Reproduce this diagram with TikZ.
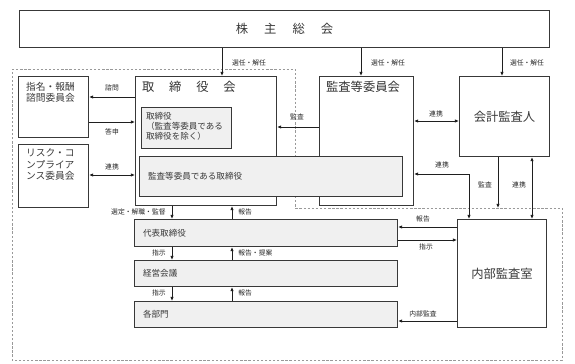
\documentclass[tikz,border=0pt]{standalone}
\usepackage{fontspec}
\setmainfont{Noto Sans CJK JP}
\usetikzlibrary{arrows.meta,positioning}

\begin{document}
\begin{tikzpicture}[
    x=0.03cm, y=-0.03cm,
    every node/.style={font=\fontsize{7.3}{9}\selectfont, text=black!78},
    box/.style={draw=black!78, line width=0.9pt, anchor=north west, inner sep=0pt},
    graybox/.style={box, fill=black!6},
    titlenode/.style={font=\fontsize{10.5}{12}\selectfont, text=black!80},
    lbl/.style={font=\fontsize{5.8}{7}\selectfont, text=black!85, inner sep=1pt},
    arr/.style={-{Latex[length=3.5pt,width=3pt]}, line width=0.8pt, black!88},
    darr/.style={{Latex[length=3.5pt,width=3pt]}-{Latex[length=3.5pt,width=3pt]}, line width=0.8pt, black!88}
]
\useasboundingbox (0,0) rectangle (575,364);

% company outline
\coordinate (dsh) at (295,208);
\draw[black!40, line width=0.6pt, dash pattern=on 2pt off 1.5pt]
    (12,69) -- (295,69) -- (dsh) -- (562,208) -- (562,360) -- (12,360) -- cycle;

% boxes
\node[box, minimum width=15.9cm, minimum height=1.11cm] (gm) at (19,10)
    {\fontsize{10.5}{12}\selectfont 株\hspace{1.3em}主\hspace{1.3em}総\hspace{1.3em}会};
\node[box, minimum width=2.1cm, minimum height=1.83cm] (nom) at (18,76) {};
\node[box, minimum width=2.1cm, minimum height=1.89cm] (risk) at (18,144) {};
\node[box, minimum width=4.23cm, minimum height=3.87cm] (bd) at (135,76) {};
\node[graybox, minimum width=2.7cm, minimum height=1.23cm] (dir) at (141,107) {};
\node[box, minimum width=2.82cm, minimum height=3.87cm] (ac) at (319,76) {};
\node[graybox, minimum width=7.89cm, minimum height=1.2cm] (acd) at (139,156) {};
\node[box, minimum width=2.7cm, minimum height=2.4cm] (aud) at (459,76)
    {\fontsize{10.5}{12}\selectfont 会計監査人};
\node[graybox, minimum width=7.89cm, minimum height=0.81cm] (ceo) at (134,219) {};
\node[graybox, minimum width=7.89cm, minimum height=0.78cm] (mgmt) at (134,260) {};
\node[graybox, minimum width=7.89cm, minimum height=0.78cm] (dept) at (134,301) {};
\node[box, minimum width=2.67cm, minimum height=3.24cm] (ia) at (457,219)
    {\fontsize{10.5}{12}\selectfont 内部監査室};

% box texts
\node[anchor=north west, align=left, font=\fontsize{8.3}{9.6}\selectfont] (nomT) at (22,78) {指名・報酬\\諮問委員会};
\node[anchor=north west, align=left, font=\fontsize{8.3}{9.8}\selectfont] (riskT) at (22,145) {リスク・コ\\ンプライア\\ンス委員会};
\node[titlenode, anchor=west] (bdT) at (138,87) {取\hspace{1.2em}締\hspace{1.2em}役\hspace{1.2em}会};
\node[titlenode, anchor=west] (acT) at (322,87) {監査等委員会};
\node[anchor=north west, align=left, font=\fontsize{7.3}{8.6}\selectfont] (dirT) at (142,108) {取締役\\（監査等委員である\\取締役を除く）};
\node[right=0.15cm of acd.west, anchor=west] (acdT) {監査等委員である取締役};
\node[right=0.15cm of ceo.west, anchor=west] (ceoT) {代表取締役};
\node[right=0.15cm of mgmt.west, anchor=west] (mgmtT) {経営会議};
\node[right=0.15cm of dept.west, anchor=west] (deptT) {各部門};

% shareholders
\draw[arr] (gm.south -| 222,0) -- (bd.north -| 222,0);
\draw[arr] (gm.south -| 361,0) -- (ac.north -| 361,0);
\draw[arr] (gm.south -| 502,0) -- (aud.north -| 502,0);
\node[lbl] (l1) at (249,63) {選任・解任};
\node[lbl] (l2) at (388,63) {選任・解任};
\node[lbl] (l3) at (527,63) {選任・解任};

% committees
\draw[arr] (bd.west |- 0,97) -- (nom.east |- 0,97);
\draw[arr] (nom.east |- 0,122) -- (bd.west |- 0,122);
\draw[darr] (risk.east |- 0,175) -- (bd.west |- 0,175);
\node[lbl] (l4) at (112,88) {諮問};
\node[lbl] (l5) at (112,132) {答申};
\node[lbl] (l6) at (112,167) {連携};

% audit links
\draw[arr] (ac.west |- 0,127) -- (bd.east |- 0,127);
\draw[darr] (ac.east |- 0,121) -- (aud.west |- 0,121);
\draw[darr] (ac.east |- 0,174) -| (ia.north -| 469,0);
\draw[arr] (aud.south -| 498,0) -- (dsh -| 498,0);
\draw[darr] (aud.south -| 532,0) -- (ia.north -| 532,0);
\node[lbl] (l7) at (297,117) {監査};
\node[lbl] (l8) at (436,114) {連携};
\node[lbl] (l9) at (442,165) {連携};
\node[lbl] (l10) at (485,185) {監査};
\node[lbl] (l11) at (519,185) {連携};

% executive chain
\draw[arr] (bd.south -| 172,0) -- (ceo.north -| 172,0);
\draw[arr] (ceo.north -| 232,0) -- (bd.south -| 232,0);
\draw[arr] (ceo.south -| 172,0) -- (mgmt.north -| 172,0);
\draw[arr] (mgmt.north -| 232,0) -- (ceo.south -| 232,0);
\draw[arr] (mgmt.south -| 172,0) -- (dept.north -| 172,0);
\draw[arr] (dept.north -| 232,0) -- (mgmt.south -| 232,0);
\node[lbl, anchor=east] (l12) at (167,212) {選定・解職・監督};
\node[lbl, anchor=west] (l13) at (237,212) {報告};
\node[lbl, anchor=east] (l14) at (167,253) {指示};
\node[lbl, anchor=west] (l15) at (237,253) {報告・提案};
\node[lbl, anchor=east] (l16) at (167,293) {指示};
\node[lbl, anchor=west] (l17) at (237,293) {報告};

% internal audit
\draw[arr] (ia.west |- 0,227) -- (ceo.east |- 0,227);
\draw[arr] (ceo.east |- 0,240) -- (ia.west |- 0,240);
\draw[arr] (ia.west |- 0,321) -- (dept.east |- 0,321);
\node[lbl] (l18) at (423,219) {報告};
\node[lbl] (l19) at (426,247) {指示};
\node[lbl] (l20) at (423,314) {内部監査};
\end{tikzpicture}
\end{document}
